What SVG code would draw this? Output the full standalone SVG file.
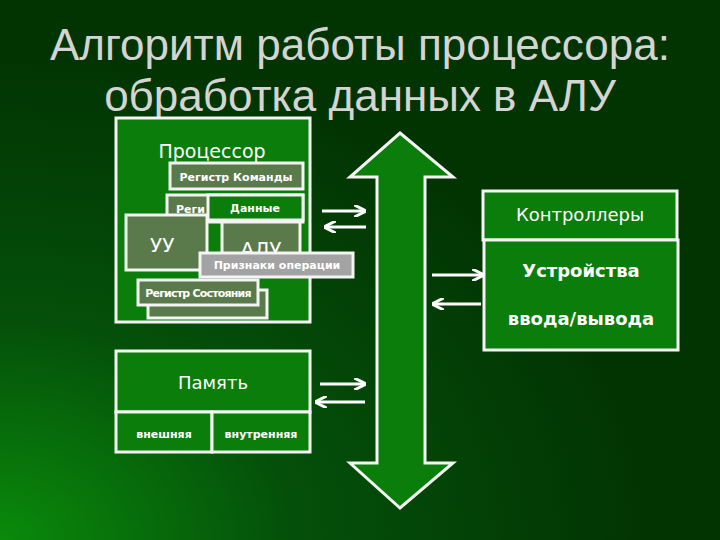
<svg xmlns="http://www.w3.org/2000/svg" width="720" height="540" viewBox="0 0 720 540">
<defs>
<radialGradient id="bg" cx="0" cy="1" r="0.9">
<stop offset="0" stop-color="#0a8a0a"/><stop offset="0.45" stop-color="#04500a"/><stop offset="1" stop-color="#023402"/>
</radialGradient>
<marker id="ah" viewBox="0 0 10 10" refX="9" refY="5" markerWidth="4" markerHeight="4" orient="auto"><path d="M0,0 L10,5 L0,10" fill="none" stroke="#fff" stroke-width="2.5"/></marker>
<style>
.g{fill:#0a7d0a;stroke:#f4f4f4;stroke-width:3}
.o{fill:#5b7a4c;stroke:#f4f4f4;stroke-width:3}
.t{font-family:"DejaVu Sans",sans-serif;fill:#fff}
.s{font-family:"DejaVu Sans",sans-serif;fill:#fff;font-weight:bold;font-size:11px}
.h{font-family:"Liberation Sans",sans-serif;fill:#d4d4d4;font-size:44px}
.c{stroke:#fff;stroke-width:3;fill:none;marker-end:url(#ah)}
</style>
</defs>
<rect width="720" height="540" fill="url(#bg)"/>
<text class="h" x="360" y="60" text-anchor="middle">Алгоритм работы процессора:</text>
<text class="h" x="360" y="111" text-anchor="middle">обработка данных в АЛУ</text>
<g id="processor">
<rect class="g" x="116" y="118" width="194" height="204"/>
<text class="t" x="212" y="158" font-size="19" text-anchor="middle">Процессор</text>
</g>
<g id="regcmd"><rect class="o" x="170" y="163" width="133" height="26"/><text class="s" x="236" y="181" text-anchor="middle">Регистр Команды</text></g>
<g id="regaddr"><rect class="o" x="167" y="195" width="136" height="27"/><text class="s" x="176" y="213">Реги</text></g>
<g id="uu"><rect class="o" x="126" y="215" width="81" height="55"/><text class="t" x="150" y="252" font-size="20">УУ</text></g>
<g id="alu"><rect class="o" x="222" y="222" width="78" height="48"/><text class="t" x="261" y="256" font-size="20" text-anchor="middle">АЛУ</text></g>
<g id="data"><rect class="g" x="208" y="195" width="95" height="25"/><text class="s" x="255" y="212" text-anchor="middle">Данные</text></g>
<g id="flags"><rect x="200" y="253" width="153" height="24" fill="#a3a3a3" stroke="#f4f4f4" stroke-width="3"/><text class="s" x="277" y="269" text-anchor="middle">Признаки операции</text></g>
<g id="regback"><rect class="o" x="148" y="290" width="119" height="28"/></g>
<g id="regstate"><rect class="o" x="138" y="280" width="120" height="25"/><text class="s" x="198" y="297" text-anchor="middle" letter-spacing="-0.8">Регистр Состояния</text></g>
<g id="memory">
<rect class="g" x="116" y="351" width="194" height="61"/>
<text class="t" x="213" y="389" font-size="18" text-anchor="middle">Память</text>
<rect class="g" x="116" y="412" width="96" height="40"/>
<text class="s" x="164" y="438" font-size="12" text-anchor="middle">внешняя</text>
<rect class="g" x="212" y="412" width="98" height="40"/>
<text class="s" x="261" y="438" text-anchor="middle">внутренняя</text>
</g>
<g id="bus"><path class="g" d="M400,133 L453,177 L425,177 L425,463 L453,463 L400,508 L350,463 L377,463 L377,177 L350,177 Z"/></g>
<g id="controllers"><rect class="g" x="483" y="191" width="194" height="49"/><text class="t" x="580" y="221" font-size="18" text-anchor="middle">Контроллеры</text></g>
<g id="devices"><rect class="g" x="484" y="240" width="194" height="110"/><text class="t" x="581" y="277" font-size="18" font-weight="bold" text-anchor="middle">Устройства</text><text class="t" x="581" y="325" font-size="18" font-weight="bold" text-anchor="middle">ввода/вывода</text></g>
<g id="connectors">
<line class="c" x1="322" y1="211" x2="365" y2="211"/>
<line class="c" x1="366" y1="227" x2="325" y2="227"/>
<line class="c" x1="432" y1="275" x2="483" y2="275"/>
<line class="c" x1="481" y1="304" x2="433" y2="304"/>
<line class="c" x1="320" y1="384" x2="365" y2="384"/>
<line class="c" x1="365" y1="402" x2="316" y2="402"/>
</g>
</svg>
